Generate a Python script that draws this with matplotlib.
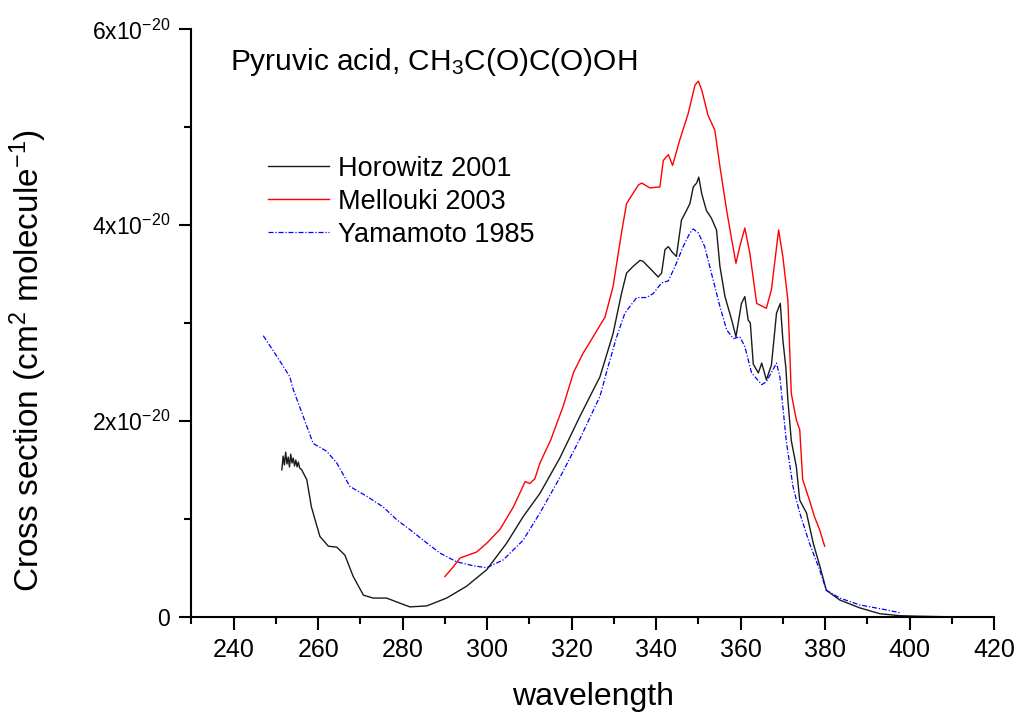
import numpy as np
import matplotlib
matplotlib.use('Agg')
import matplotlib.pyplot as plt

plt.rcParams['font.family'] = ['Liberation Sans', 'DejaVu Sans']
plt.rcParams['mathtext.fontset'] = 'custom'
plt.rcParams['mathtext.rm'] = 'Liberation Sans'
plt.rcParams['mathtext.it'] = 'Liberation Sans:italic'
plt.rcParams['mathtext.default'] = 'regular'

# Horowitz 2001 (wavelength nm, cross section in 1e-20 cm2)
hor_wl = [251.4, 251.7, 252.0, 252.3, 252.6, 252.9, 253.2, 253.5, 253.8, 254.1,
          254.4, 254.7, 255.0, 255.3, 255.6, 256.1, 257.3, 258.4, 260.4, 262.4,
          264.4, 266.3, 268.3, 270.7, 273.0, 276.2, 278.6, 281.7, 285.7, 290.4,
          295.1, 299.9, 304.6, 308.5, 312.5, 317.2, 322.0, 326.7, 327.9, 329.8,
          331.8, 333.0, 334.6, 336.2, 336.9, 338.5, 340.5, 341.3, 342.1, 342.9,
          343.7, 344.8, 346.0, 347.2, 348.0, 348.8, 349.6, 350.1, 350.8, 351.9,
          353.1, 354.3, 355.1, 356.3, 357.9, 358.9, 360.2, 361.0, 361.8, 362.3,
          363.0, 364.2, 365.0, 366.1, 367.3, 368.5, 369.4, 370.0, 370.7, 371.2,
          372.0, 373.2, 374.0, 375.6, 377.2, 378.8, 380.3, 383.5, 388.2, 393.0,
          397.7, 402.0, 408.0]
hor_cs = [1.50, 1.64, 1.55, 1.68, 1.56, 1.63, 1.53, 1.66, 1.57, 1.62,
          1.54, 1.60, 1.53, 1.58, 1.52, 1.50, 1.40, 1.12, 0.82, 0.72,
          0.71, 0.63, 0.41, 0.22, 0.19, 0.19, 0.15, 0.10, 0.11, 0.19,
          0.31, 0.48, 0.75, 1.02, 1.26, 1.62, 2.05, 2.45, 2.62, 2.89,
          3.30, 3.51, 3.58, 3.64, 3.63, 3.56, 3.47, 3.51, 3.75, 3.78,
          3.73, 3.68, 4.05, 4.15, 4.22, 4.39, 4.43, 4.49, 4.32, 4.15,
          4.07, 3.95, 3.58, 3.27, 3.03, 2.86, 3.20, 3.27, 3.03, 3.00,
          2.58, 2.49, 2.59, 2.42, 2.57, 3.10, 3.20, 2.83, 2.55, 2.21,
          1.80, 1.53, 1.19, 1.06, 0.75, 0.51, 0.27, 0.17, 0.09, 0.03,
          0.01, 0.005, 0.0]

# Mellouki 2003
mel_wl = [290.0, 292.0, 293.6, 297.5, 299.9, 303.0, 306.2, 309.0, 310.1, 311.3,
          312.5, 315.0, 318.0, 320.5, 322.7, 325.1, 327.9, 329.8, 331.8, 333.0,
          335.8, 336.6, 338.5, 340.9, 341.7, 342.9, 343.9, 345.6, 347.6, 349.2,
          350.0, 350.8, 352.3, 353.9, 355.1, 356.7, 357.9, 358.9, 359.8, 361.0,
          362.2, 363.8, 366.1, 367.3, 369.0, 370.0, 371.2, 372.0, 373.2, 374.0,
          374.7, 376.3, 377.5, 378.7, 379.9]
mel_cs = [0.41, 0.51, 0.60, 0.66, 0.75, 0.89, 1.12, 1.38, 1.36, 1.41,
          1.57, 1.80, 2.15, 2.50, 2.69, 2.86, 3.06, 3.37, 3.92, 4.22,
          4.41, 4.43, 4.38, 4.39, 4.66, 4.72, 4.61, 4.87, 5.14, 5.43,
          5.47, 5.38, 5.12, 4.97, 4.60, 4.15, 3.85, 3.61, 3.78, 3.97,
          3.71, 3.20, 3.15, 3.34, 3.95, 3.68, 3.23, 2.28, 2.01, 1.91,
          1.40, 1.19, 1.02, 0.89, 0.72]

# Yamamoto 1985
yam_wl = [247.0, 250.2, 253.3, 254.1, 256.5, 258.8, 262.0, 264.4, 267.5, 271.5,
          275.4, 278.6, 281.7, 284.9, 288.8, 292.8, 296.7, 299.9, 303.8, 308.5,
          312.5, 317.2, 322.0, 326.7, 328.6, 330.6, 332.6, 335.4, 337.7, 339.3,
          341.3, 342.9, 344.8, 346.4, 348.0, 348.8, 350.0, 351.5, 353.5, 355.1,
          356.7, 358.3, 359.8, 361.0, 362.6, 365.0, 366.1, 368.5, 369.3, 370.8,
          372.4, 374.0, 376.3, 378.7, 380.3, 383.5, 388.2, 394.4, 397.7]
yam_cs = [2.87, 2.66, 2.45, 2.32, 2.04, 1.77, 1.69, 1.57, 1.33, 1.23,
          1.12, 0.99, 0.89, 0.78, 0.65, 0.56, 0.52, 0.50, 0.58, 0.78,
          1.06, 1.42, 1.82, 2.25, 2.55, 2.85, 3.10, 3.26, 3.26, 3.30,
          3.41, 3.43, 3.61, 3.78, 3.92, 3.96, 3.92, 3.78, 3.44, 3.17,
          2.93, 2.84, 2.86, 2.76, 2.49, 2.37, 2.40, 2.59, 2.45, 1.80,
          1.33, 1.06, 0.75, 0.48, 0.27, 0.19, 0.12, 0.07, 0.04]

ytick_vals = [0, 2, 4, 6]
ytick_text = ['0', r'2x10$^{-20}$', r'4x10$^{-20}$', r'6x10$^{-20}$']

fig = plt.figure(figsize=(10.19, 7.13), dpi=100)
ax = fig.add_axes([0.1879, 0.1351, 0.7876, 0.8238])

ax.plot(hor_wl, hor_cs, color='#1a1a1a', lw=1.0, label='Horowitz 2001')
ax.plot(mel_wl, mel_cs, color='#ff0000', lw=1.0, label='Mellouki 2003')
ax.plot(yam_wl, yam_cs, color='#0000ff', lw=0.9, ls=(0, (4, 1.5, 1, 1.5)),
        label='Yamamoto 1985')

ax.set_xlim(230, 420)
ax.set_ylim(0, 6)
ax.set_xticks(np.arange(240, 421, 20))
ax.set_xticks(np.arange(230, 421, 10), minor=True)
ax.set_yticks(ytick_vals)
ax.set_yticklabels(ytick_text)
ax.set_yticks([1, 3, 5], minor=True)

for s in ['top', 'right']:
    ax.spines[s].set_visible(False)
for s in ['left', 'bottom']:
    ax.spines[s].set_linewidth(1.5)
ax.tick_params(which='major', length=9, width=1.5, direction='out')
ax.tick_params(which='minor', length=5, width=1.5, direction='out')
ax.tick_params(axis='x', labelsize=18, pad=6)
ax.tick_params(axis='y', labelsize=16.5, pad=6.5)

ax.set_xlabel('wavelength', fontsize=23, labelpad=15)
ax.set_ylabel('Cross section (cm$^2$ molecule$^{-1}$)', fontsize=24)
ax.yaxis.set_label_coords(-0.178, 0.437)

ax.text(239.1, 5.67, 'Pyruvic acid, CH$_3$C(O)C(O)OH', fontsize=21.5,
        va='center', ha='left')

ax.legend(loc='upper left', bbox_to_anchor=(0.0953, 0.785), frameon=False,
          fontsize=19.5, handlelength=2.25, handletextpad=0.33, labelspacing=0.26,
          borderpad=0, borderaxespad=0)

fig.savefig('out.png', dpi=100)
